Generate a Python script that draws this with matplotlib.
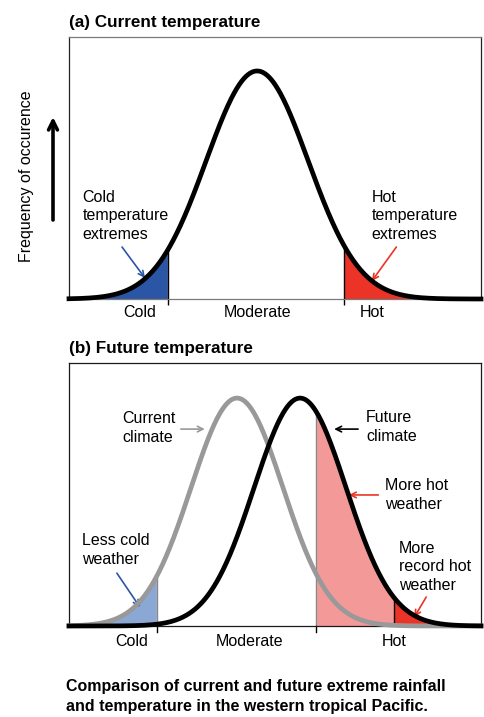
import numpy as np
import matplotlib.pyplot as plt
from matplotlib.patches import FancyArrowPatch

plt.rcParams['font.family'] = ['Liberation Sans', 'DejaVu Sans']

# panel (a): current climate, x in units of standard deviation
a_mean = 0.0
a_sigma = 1.0
a_xlim = (-3.69, 4.39)
a_cold = -1.75
a_hot = 1.7
a_cats = ["Cold", "Moderate", "Hot"]
a_cat_x = [-2.31, 0.0, 2.25]

# panel (b): current vs future climate
b_current_mean = 0.0
b_future_mean = 1.37
b_sigma = 1.0
b_xlim = (-3.65, 5.30)
b_cold = -1.74
b_hot = 1.72
b_record = 3.41
b_cats = ["Cold", "Moderate", "Hot"]
b_cat_x = [-2.28, 0.28, 3.41]

BLUE = "#2b56a6"
LIGHT_BLUE = "#8ba7d3"
RED = "#ec3327"
PINK = "#f39a99"
GREY = "#999999"
FS = 11.5
LS = 1.32


def bell(x, mu, s):
    return np.exp(-0.5 * ((x - mu) / s) ** 2)


def arrow(ax, start, end, color, lw=1.2):
    ax.annotate("", xy=end, xytext=start,
                arrowprops=dict(arrowstyle="->", color=color, lw=lw,
                                mutation_scale=10, shrinkA=0, shrinkB=0))


fig = plt.figure(figsize=(4.85, 7.17), dpi=100)

# ---------------- panel (a) ----------------
ax1 = fig.add_axes([69 / 485, 1 - 299 / 717, 412 / 485, 262 / 717])
x = np.linspace(a_xlim[0], a_xlim[1], 600)
y = bell(x, a_mean, a_sigma)
m = x <= a_cold
ax1.fill_between(x[m], 0, y[m], color=BLUE, lw=0)
m = x >= a_hot
ax1.fill_between(x[m], 0, y[m], color=RED, lw=0)
for t in (a_cold, a_hot):
    ax1.plot([t, t], [-0.025, bell(t, a_mean, a_sigma)], color="black", lw=1.0,
             clip_on=False, solid_capstyle="butt")
ax1.plot(x, y, color="black", lw=3.4, clip_on=False, zorder=5)
ax1.set_xlim(*a_xlim)
ax1.set_ylim(0, 1.149)
for c, cx in zip(a_cats, a_cat_x):
    ax1.text(cx, -0.061, c, ha="center", va="center", fontsize=FS)
ax1.text(-3.43, 0.364, "Cold\ntemperature\nextremes", ha="left", va="center",
         fontsize=FS, linespacing=LS)
ax1.text(2.24, 0.364, "Hot\ntemperature\nextremes", ha="left", va="center",
         fontsize=FS, linespacing=LS)
arrow(ax1, (-2.65, 0.228), (-2.2, 0.092), BLUE)
arrow(ax1, (2.73, 0.228), (2.25, 0.079), RED)
ax1.text(0, 1 + 15 / 262, "(a) Current temperature", transform=ax1.transAxes,
         ha="left", va="center", fontsize=12.3, fontweight="bold")
for s in ("top", "bottom"):
    ax1.spines[s].set_color("#7a7a7a")
for s in ("left", "right"):
    ax1.spines[s].set_color("#222222")
for s in ax1.spines.values():
    s.set_linewidth(0.9)
ax1.set_xticks([])
ax1.set_yticks([])

# y-axis label and arrow
fig.text(27 / 485, 1 - 176 / 717, "Frequency of occurence", rotation=90,
         ha="center", va="center", fontsize=FS)
fig.add_artist(FancyArrowPatch(
    (53 / 485, 1 - 220 / 717), (53 / 485, 1 - 117 / 717),
    transform=fig.transFigure, arrowstyle="->", lw=2.6, color="black",
    mutation_scale=16, shrinkA=0, shrinkB=0))

# ---------------- panel (b) ----------------
ax2 = fig.add_axes([69 / 485, 1 - 626 / 717, 412 / 485, 263 / 717])
x = np.linspace(b_xlim[0], b_xlim[1], 600)
yc = bell(x, b_current_mean, b_sigma)
yf = bell(x, b_future_mean, b_sigma)
m = x <= b_cold
ax2.fill_between(x[m], 0, yc[m], color=LIGHT_BLUE, lw=0)
m = (x >= b_hot) & (x <= b_record)
ax2.fill_between(x[m], 0, yf[m], color=PINK, lw=0)
m = x >= b_record
ax2.fill_between(x[m], 0, yf[m], color=RED, lw=0)
ax2.plot([b_cold, b_cold], [0, bell(b_cold, b_current_mean, b_sigma)],
         color="#888888", lw=1.0)
ax2.plot([b_hot, b_hot], [0, bell(b_hot, b_future_mean, b_sigma)],
         color="#888888", lw=1.0)
ax2.plot([b_record, b_record], [0, bell(b_record, b_future_mean, b_sigma)],
         color="black", lw=1.0)
for t in (b_cold, b_hot):
    ax2.plot([t, t], [-0.025, 0], color="black", lw=1.0, clip_on=False)
ax2.plot(x, yc, color=GREY, lw=3.4, clip_on=False, zorder=4)
ax2.plot(x, yf, color="black", lw=3.4, clip_on=False, zorder=5)
ax2.set_xlim(*b_xlim)
ax2.set_ylim(0, 1.154)
for c, cx in zip(b_cats, b_cat_x):
    ax2.text(cx, -0.066, c, ha="center", va="center", fontsize=FS)
ax2.text(-2.5, 0.868, "Current\nclimate", ha="left", va="center",
         fontsize=FS, linespacing=LS)
arrow(ax2, (-1.22, 0.864), (-0.70, 0.864), GREY)
ax2.text(2.80, 0.872, "Future\nclimate", ha="left", va="center",
         fontsize=FS, linespacing=LS)
arrow(ax2, (2.63, 0.864), (2.11, 0.864), "black")
ax2.text(3.22, 0.575, "More hot\nweather", ha="left", va="center",
         fontsize=FS, linespacing=LS)
arrow(ax2, (3.07, 0.575), (2.43, 0.575), RED)
ax2.text(-3.37, 0.333, "Less cold\nweather", ha="left", va="center",
         fontsize=FS, linespacing=LS)
arrow(ax2, (-2.61, 0.232), (-2.11, 0.083), BLUE)
ax2.text(3.52, 0.259, "More\nrecord hot\nweather", ha="left", va="center",
         fontsize=FS, linespacing=LS)
arrow(ax2, (4.11, 0.127), (3.85, 0.039), RED)
ax2.text(0, 1 + 14 / 263, "(b) Future temperature", transform=ax2.transAxes,
         ha="left", va="center", fontsize=12.3, fontweight="bold")
for s in ax2.spines.values():
    s.set_color("#1a1a1a")
    s.set_linewidth(0.9)
ax2.set_xticks([])
ax2.set_yticks([])

# caption
fig.text(66 / 485, 1 - 686 / 717, "Comparison of current and future extreme rainfall",
         ha="left", va="center", fontsize=11.5, fontweight="bold")
fig.text(66 / 485, 1 - 706 / 717, "and temperature in the western tropical Pacific.",
         ha="left", va="center", fontsize=11.5, fontweight="bold")

fig.savefig("out.png", dpi=100)
